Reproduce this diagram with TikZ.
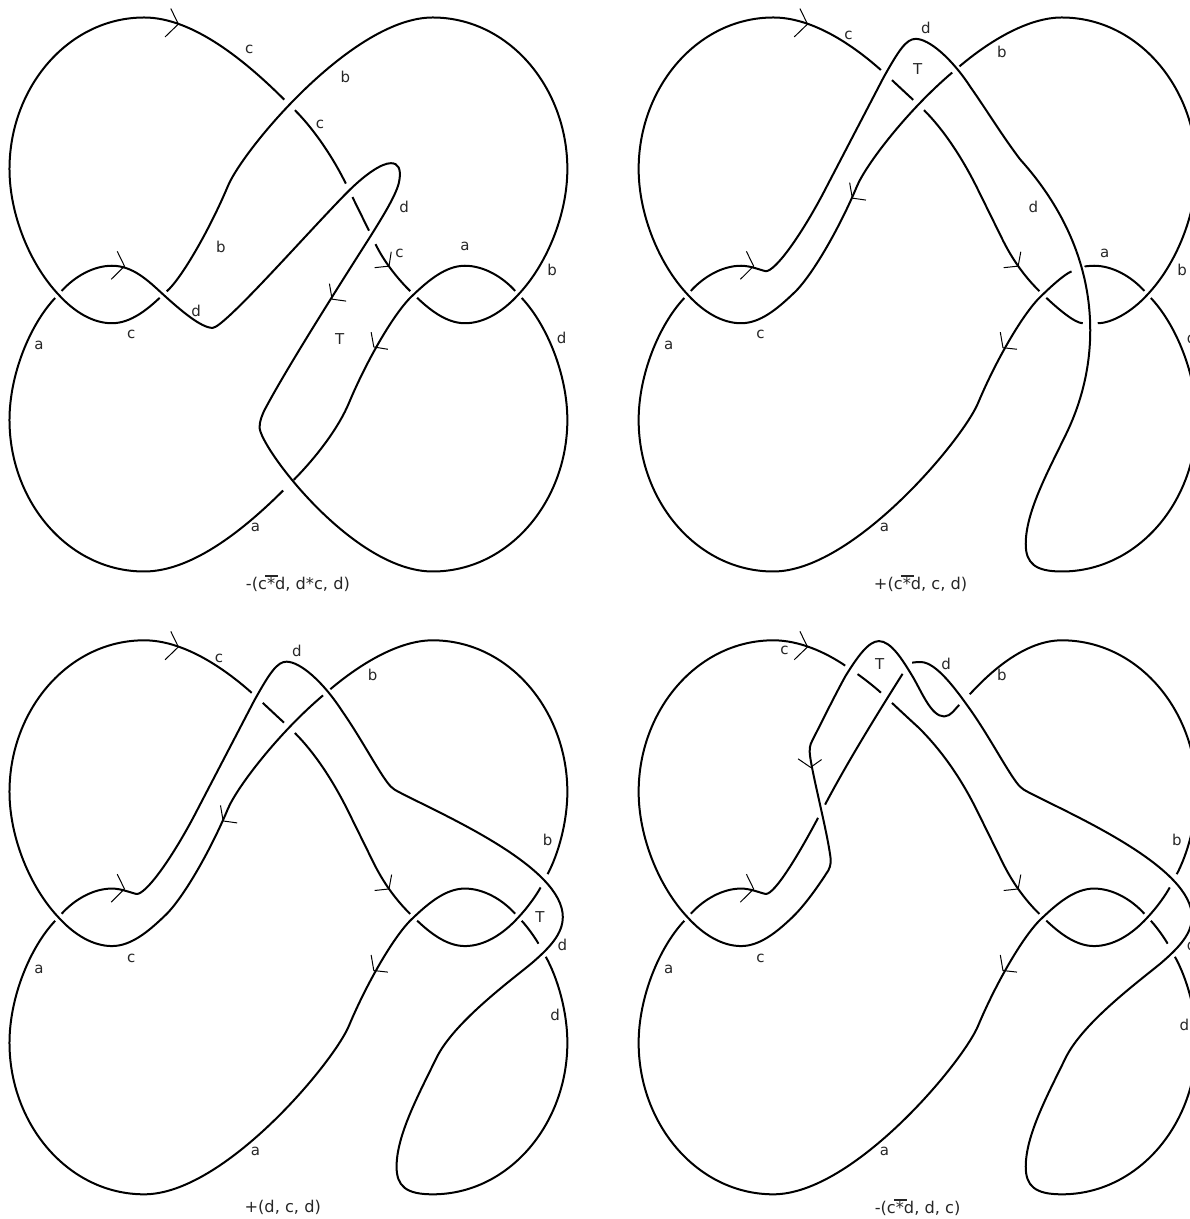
\documentclass[tikz,border=0pt]{standalone}
\usepackage{fontspec}
\setmainfont{DejaVu Sans}
\newcommand\ostar{\makebox[0pt][l]{\hspace{-0.12em}\raisebox{0.82em}{\rule{0.8em}{0.09em}}}*}
\newcommand\tk[3]{\draw[ticks] #2 -- #1 -- #3;}
\tikzset{
 strand/.style={line width=2pt,line cap=butt,line join=round,black,shorten >=7.5pt,shorten <=7.5pt},
 ss/.style={shorten <=4.8pt},
 se/.style={shorten >=4.8pt},
 ticks/.style={line width=1pt,black},
 lbl/.style={font=\fontsize{15}{17}\selectfont,inner sep=0pt,text=black!85},
 captext/.style={font=\fontsize{16.2}{18}\selectfont,inner sep=0pt,text=black!85},
 zoomed/.style={x=0.3795pt,y=-0.3885pt}
}
% shared pieces of the knot
\def\knLL{.. controls (180,45) and (25,225) .. (25,435) .. controls (25,552.5) and (79.4,680.8) .. (154,758) .. controls (196.4,803.8) and (245.7,832) .. (295,832)}
\def\knEb{.. controls (345,832) and (390,795) .. (430,758)}
\def\knEm{.. controls (480,715) and (555,585) .. (600,480)}
\def\knMa{.. controls (623.4,424.4) and (732.4,285) .. (860.8,178.8)}
\def\knMb{.. controls (952,103.5) and (1052.9,45) .. (1140,45)}
\def\knTopR{.. controls (1340,45) and (1495,225) .. (1495,435)}
\def\knRX{.. controls (1495,552.5) and (1440.6,680.8) .. (1366,758)}
\def\knRS{.. controls (1495,512.6) and (1471.3,594.8) .. (1433.7,664)}
\def\knSX{.. controls (1414.4,699.6) and (1391.4,731.8) .. (1366,758)}
\def\knXB{.. controls (1323.6,803.8) and (1274.3,832) .. (1225,832)}
\def\knBX{.. controls (1175,832) and (1130,795) .. (1090,758)}
\def\knHL{.. controls (196.4,712.2) and (245.7,684) .. (295,684)}
\def\knHR{.. controls (1323.6,712.2) and (1274.3,684) .. (1225,684)}
\def\knHRb{.. controls (1175,684) and (1130,721) .. (1090,758)}
\def\knLowA{.. controls (1040,801) and (965,931) .. (920,1036)}
\def\knLowB{.. controls (880,1131) and (590,1471) .. (380,1471)}
\def\knBL{.. controls (180,1471) and (25,1291) .. (25,1081) .. controls (25,963.5) and (79.4,835.2) .. (154,758)}
\def\knBRa{.. controls (1340,1471) and (1495,1291) .. (1495,1081)}
\def\knBRb{.. controls (1495,963.5) and (1440.6,835.2) .. (1366,758)}
\def\knBRc{.. controls (1495,999.9) and (1469.1,913.7) .. (1428.5,842.7)}
\def\knBRd{.. controls (1410.3,810.8) and (1389.1,781.9) .. (1366,758)}
\def\knCDa{.. controls (830,335) and (880,410) .. (920,490)}
\def\knCDc{.. controls (1010,670) and (1045,715) .. (1090,758)}
\def\knCorner{.. controls (320,684) and (345,695) .. (360,698)}
\def\knUp{.. controls (385,698) and (450,610) .. (510,500) .. controls (550,425) and (630,275) .. (670,200) .. controls (710,130) and (730,100) .. (755,100) .. controls (790,100) and (850,150) .. (900,225)}
\def\knSwing{.. controls (950,295) and (990,370) .. (1020,410) .. controls (1035,430) and (1045,432) .. (1060,440) .. controls (1180,500) and (1483,630) .. (1483,757) .. controls (1483,800) and (1450,835) .. (1400,877) .. controls (1340,925) and (1195,1030) .. (1150,1120)}
\def\knFoot{.. controls (1100,1220) and (1045,1320) .. (1045,1400) .. controls (1045,1450) and (1070,1471) .. (1140,1471)}
\begin{document}
\begin{tikzpicture}[x=1pt,y=-1pt]
\useasboundingbox (0,0) rectangle (1190,1219);
\clip (0,0) rectangle (1190,1219);
% ---------- panel 1
\begin{scope}[zoomed]
\draw[strand,se] (763,270) .. controls (650,160) and (510,45) .. (380,45) \knLL \knEb;
\draw[strand,ss,se] (154,758) \knHL .. controls (350,684) and (390,722) .. (430,758) .. controls (475,798) and (530,844) .. (560,844) .. controls (590,844) and (800,610) .. (910,500) .. controls (960,450) and (1005,420) .. (1030,420) .. controls (1050,420) and (1056,435) .. (1053,460) .. controls (1050,490) and (1020,540) .. (975,610) .. controls (900,725) and (760,940) .. (700,1050) .. controls (690,1068) and (684,1085) .. (684,1100) .. controls (684,1150) and (930,1471) .. (1140,1471) \knBRa \knBRb;
\draw[strand,ss] (1366,758) \knHR \knHRb \knLowA .. controls (893,1100) and (835,1175) .. (760,1249);
\draw[strand,se] (760,1249) .. controls (650,1356) and (510,1471) .. (380,1471) \knBL;
\draw[strand,ss,se] (430,758) \knEm .. controls (640,385) and (930,45) .. (1140,45) \knTopR \knRX \knXB \knBX;
\draw[strand] (763,270) \knCDa;
\draw[strand] (920,490) -- (981,611);
\draw[strand,se] (981,611) \knCDc;
\tk{(470,62)}{(450,22)}{(435,95)}
\tk{(328,685)}{(309,647)}{(293,719)}
\tk{(875,770)}{(868,730)}{(912,775)}
\tk{(985,893)}{(978,855)}{(1022,899)}
\tk{(1025,685)}{(1031,648)}{(987,689)}
\node[lbl] (p1l1) at (657,127) {c};
\node[lbl] (p1l2) at (910,197) {b};
\node[lbl] (p1l3) at (843,320) {c};
\node[lbl] (p1l4) at (1065,532) {d};
\node[lbl] (p1l5) at (582,635) {b};
\node[lbl] (p1l6) at (1053,653) {c};
\node[lbl] (p1l7) at (1225,635) {a};
\node[lbl] (p1l8) at (1455,694) {b};
\node[lbl] (p1l9) at (517,800) {d};
\node[lbl] (p1l10) at (346,862) {c};
\node[lbl] (p1l11) at (103,890) {a};
\node[lbl] (p1l12) at (895,873) {T};
\node[lbl] (p1l13) at (1480,869) {d};
\node[lbl] (p1l14) at (673,1358) {a};
\node[captext] (p1cap) at (785,1502) {-(c\ostar d, d*c, d)};
\end{scope}
% ---------- panel 2
\begin{scope}[zoomed,shift={(595pt,0pt)}]
\begin{scope}[shift={(90,0)}]
\draw[strand,se] (678,193) .. controls (585,112) and (480,45) .. (380,45) \knLL \knEb \knEm \knMa;
\draw[strand,ss,se] (154,758) \knHL \knCorner \knUp .. controls (950,295) and (980,345) .. (1030,410) .. controls (1150,540) and (1215,690) .. (1215,850) .. controls (1215,950) and (1190,1040) .. (1150,1120) \knFoot \knBRa \knBRb;
\draw[strand,ss] (1366,758) \knHR .. controls (1211,684) and (1197.4,686.8) .. (1184.2,691.7);
\draw[strand,se] (1184.2,691.7) .. controls (1150.2,704.3) and (1118.8,730.6) .. (1090,758) \knLowA \knLowB \knBL;
\draw[strand,ss] (860.8,178.8) \knMb \knTopR \knRX .. controls (1323.6,803.8) and (1270,832) .. (1215,832);
\draw[strand,se] (1215,832) .. controls (1175,832) and (1130,795) .. (1090,758);
\draw[strand] (678,193) .. controls (700,213) and (735,245) .. (763,270);
\draw[strand,se] (763,270) \knCDa -- (981,611) \knCDc;
\end{scope}
\tk{(560,62)}{(540,22)}{(525,95)}
\tk{(418,685)}{(399,647)}{(383,719)}
\tk{(678,510)}{(671,470)}{(714,515)}
\tk{(1075,895)}{(1068,855)}{(1112,899)}
\tk{(1115,685)}{(1122,648)}{(1077,689)}
\node[lbl] (p2l1) at (668,90) {c};
\node[lbl] (p2l2) at (872,72) {d};
\node[lbl] (p2l3) at (850,177) {T};
\node[lbl] (p2l4) at (1072,133) {b};
\node[lbl] (p2l5) at (1155,532) {d};
\node[lbl] (p2l6) at (1343,651) {a};
\node[lbl] (p2l7) at (1547,694) {b};
\node[lbl] (p2l8) at (436,862) {c};
\node[lbl] (p2l9) at (194,890) {a};
\node[lbl] (p2l10) at (1572,870) {d};
\node[lbl] (p2l11) at (763,1358) {a};
\node[captext] (p2cap) at (858,1502) {+(c\ostar d, c, d)};
\end{scope}
% ---------- panel 3
\begin{scope}[zoomed,shift={(0pt,-610pt)}]
\begin{scope}[shift={(0,33)}]
\draw[strand,se] (678,193) .. controls (585,112) and (480,45) .. (380,45) \knLL \knEb \knEm \knMa;
\draw[strand,ss] (154,758) \knHL \knCorner \knUp \knSwing \knFoot \knBRa \knBRc;
\draw[strand,se] (1428.5,842.7) \knBRd;
\draw[strand,ss,se] (1366,758) \knHR \knHRb \knLowA \knLowB \knBL;
\draw[strand,ss] (860.8,178.8) \knMb \knTopR \knRS;
\draw[strand,se] (1433.7,664) \knSX \knXB \knBX;
\draw[strand] (678,193) .. controls (700,213) and (735,245) .. (763,270);
\draw[strand,se] (763,270) \knCDa -- (981,611) \knCDc;
\end{scope}
\tk{(470,95)}{(450,55)}{(435,128)}
\tk{(328,718)}{(309,680)}{(293,752)}
\tk{(588,543)}{(581,503)}{(625,548)}
\tk{(985,928)}{(978,888)}{(1022,932)}
\tk{(1025,718)}{(1032,681)}{(987,722)}
\node[lbl] (p3l1) at (577,124) {c};
\node[lbl] (p3l2) at (782,105) {d};
\node[lbl] (p3l3) at (982,168) {b};
\node[lbl] (p3l4) at (1443,592) {b};
\node[lbl] (p3l5) at (1423,790) {T};
\node[lbl] (p3l6) at (1482,862) {d};
\node[lbl] (p3l7) at (346,897) {c};
\node[lbl] (p3l8) at (103,925) {a};
\node[lbl] (p3l9) at (1463,1043) {d};
\node[lbl] (p3l10) at (673,1393) {a};
\node[captext] (p3cap) at (745,1538) {+(d, c, d)};
\end{scope}
% ---------- panel 4
\begin{scope}[zoomed,shift={(595pt,-610pt)}]
\begin{scope}[shift={(90,33)}]
\draw[strand] (585.5,121.1) .. controls (518.1,76) and (448,45) .. (380,45) \knLL \knEb .. controls (470,720) and (510,660) .. (525,637) .. controls (532,625) and (532,610) .. (530,600) .. controls (520,530) and (485,400) .. (477,345) .. controls (474,325) and (476,315) .. (483,302) .. controls (500,270) and (540,190) .. (570,137) .. controls (600,90) and (630,47) .. (658,47) .. controls (690,47) and (720,95) .. (745,135) .. controls (770,175) and (795,241) .. (830,241) .. controls (848,241) and (860,220) .. (884,198);
\draw[strand,ss] (154,758) \knHL \knCorner .. controls (385,698) and (450,590) .. (507,485);
\draw[strand] (507,485) .. controls (580,350) and (660,225) .. (731,115);
\draw[strand] (731,115) .. controls (745,103) and (760,100) .. (770,101) .. controls (810,103) and (860,170) .. (900,225) \knSwing \knFoot \knBRa \knBRc;
\draw[strand,se] (1428.5,842.7) \knBRd;
\draw[strand,ss,se] (1366,758) \knHR \knHRb \knLowA \knLowB \knBL;
\draw[strand] (884,198) .. controls (930,150) and (1030,45) .. (1140,45) \knTopR \knRS;
\draw[strand,se] (1433.7,664) \knSX \knXB \knBX;
\draw[strand] (585.5,121.1) .. controls (617.2,142.3) and (648.2,166.1) .. (678,193);
\draw[strand,se] (678,193) .. controls (700,213) and (735,245) .. (763,270) \knCDa -- (981,611) \knCDc;
\end{scope}
\tk{(560,95)}{(540,55)}{(525,128)}
\tk{(418,718)}{(399,680)}{(383,752)}
\tk{(568,405)}{(535,383)}{(597,385)}
\tk{(1075,928)}{(1068,888)}{(1112,932)}
\tk{(1115,718)}{(1122,681)}{(1077,722)}
\node[lbl] (p4l1) at (499,104) {c};
\node[lbl] (p4l2) at (750,138) {T};
\node[lbl] (p4l3) at (925,138) {d};
\node[lbl] (p4l4) at (1072,168) {b};
\node[lbl] (p4l5) at (1533,592) {b};
\node[lbl] (p4l6) at (436,897) {c};
\node[lbl] (p4l7) at (194,925) {a};
\node[lbl] (p4l8) at (1572,862) {d};
\node[lbl] (p4l9) at (1553,1068) {d};
\node[lbl] (p4l10) at (763,1393) {a};
\node[captext] (p4cap) at (850,1538) {-(c\ostar d, d, c)};
\end{scope}
\end{tikzpicture}
\end{document}
